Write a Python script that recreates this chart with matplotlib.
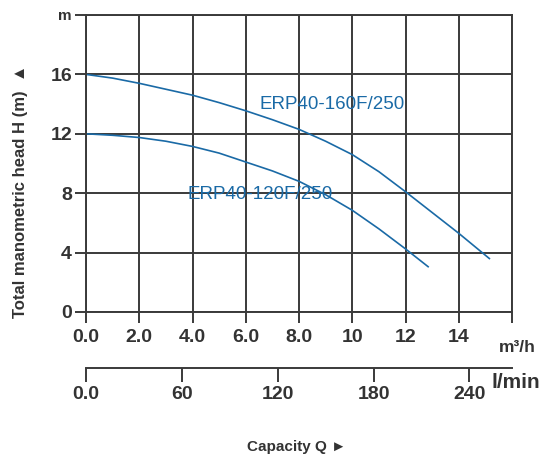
import numpy as np
import matplotlib
matplotlib.use("Agg")
import matplotlib.pyplot as plt

plt.rcParams["font.family"] = ["Liberation Sans", "DejaVu Sans"]

# Pump curves (Q in m3/h, H in m)
q_160 = [0, 1, 2, 3, 4, 5, 6, 7, 8, 9, 10, 11, 12, 13, 14, 15.15]
h_160 = [16.0, 15.75, 15.4, 15.0, 14.6, 14.1, 13.55, 12.95, 12.3, 11.5, 10.6, 9.45, 8.1, 6.7, 5.3, 3.6]
q_120 = [0, 1, 2, 3, 4, 5, 6, 7, 8, 9, 10, 11, 12, 12.85]
h_120 = [12.0, 11.9, 11.75, 11.5, 11.15, 10.7, 10.1, 9.5, 8.8, 7.9, 6.85, 5.6, 4.25, 3.05]

x_ticks = [0, 2, 4, 6, 8, 10, 12, 14, 16]
x_labels = ["0.0", "2.0", "4.0", "6.0", "8.0", "10", "12", "14", ""]
y_ticks = [0, 4, 8, 12, 16, 20]
y_labels = ["0", "4", "8", "12", "16", "m"]
lmin_ticks = [0, 60, 120, 180, 240]
lmin_labels = ["0.0", "60", "120", "180", "240"]

blue = "#1a6aa6"
grey = "#3a3a3a"
txt = "#333333"

fig = plt.figure(figsize=(5.39, 4.59), dpi=100)
W, H = 539, 459
ax = fig.add_axes([86 / W, 1 - 312 / H, (512 - 86) / W, (312 - 15) / H])

ax.plot(q_160, h_160, color=blue, lw=1.2)
ax.plot(q_120, h_120, color=blue, lw=1.2)

ax.set_xlim(0, 16)
ax.set_ylim(0, 20)
ax.set_xticks(x_ticks)
ax.set_xticklabels(x_labels)
ax.set_yticks(y_ticks)
ax.set_yticklabels(y_labels)
ax.grid(True, color=grey, lw=1.4)
ax.set_axisbelow(True)
for s in ax.spines.values():
    s.set_color(grey)
    s.set_linewidth(1.4)
ax.tick_params(axis="x", direction="out", length=8, width=1.4, color=grey,
               labelsize=14, labelcolor=txt, pad=4)
ax.tick_params(axis="y", direction="out", length=8, width=1.4, color=grey,
               labelsize=14, labelcolor=txt, pad=2)
for lab in ax.get_xticklabels() + ax.get_yticklabels():
    lab.set_fontweight("bold")
ax.get_yticklabels()[-1].set_fontsize(11)

ax.text(6.5, 14.0, "ERP40-160F/250", color=blue, fontsize=13.5, va="center", ha="left")
ax.text(3.8, 7.9, "ERP40-120F/250", color=blue, fontsize=13.5, va="center", ha="left")

# secondary capacity axis in l/min
ax2 = fig.add_axes([86 / W, 1 - 368 / H, (512 - 86) / W, 0.001])
ax2.set_xlim(0, 16 * 1000 / 60)
ax2.set_ylim(0, 1)
ax2.set_yticks([])
ax2.set_xticks(lmin_ticks)
ax2.set_xticklabels(lmin_labels)
for k in ["top", "left", "right"]:
    ax2.spines[k].set_visible(False)
ax2.spines["bottom"].set_color(grey)
ax2.spines["bottom"].set_linewidth(1.4)
ax2.tick_params(axis="x", direction="out", length=10, width=1.4, color=grey,
                labelsize=14, labelcolor=txt, pad=3)
for lab in ax2.get_xticklabels():
    lab.set_fontweight("bold")
ax2.patch.set_visible(False)

fig.text(517 / W, 1 - 347 / H, "m³/h", fontsize=12.5, fontweight="bold", color=txt,
         ha="center", va="center")
fig.text(516 / W, 1 - 383 / H, "l/min", fontsize=15, fontweight="bold", color=txt,
         ha="center", va="center")
fig.text(297 / W, 1 - 447 / H, "Capacity Q ►", fontsize=11, fontweight="bold", color=txt,
         ha="center", va="center")
fig.text(21 / W, 1 - 191 / H, "Total manometric head H (m)  ▲", fontsize=12,
         fontweight="bold", color=txt, ha="center", va="center", rotation=90)

fig.savefig("out.png", dpi=100)
